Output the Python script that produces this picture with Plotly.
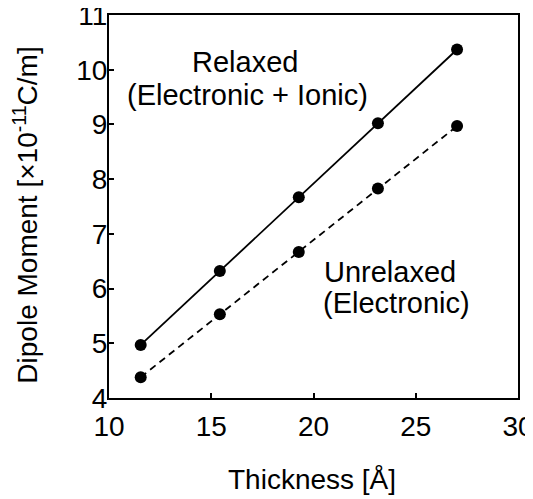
import plotly.graph_objects as go

thickness = [11.55, 15.42, 19.28, 23.15, 27.02]
relaxed = [4.97, 6.32, 7.67, 9.02, 10.37]
unrelaxed = [4.38, 5.53, 6.67, 7.83, 8.97]

FONT = "Liberation Sans, Arial, Helvetica, sans-serif"
FS = 28
FS_ANN = 29

fig = go.Figure()
fig.add_trace(go.Scatter(
    x=thickness, y=relaxed, mode="lines+markers",
    line=dict(color="black", width=1.8),
    marker=dict(color="black", size=12),
    showlegend=False,
))
fig.add_trace(go.Scatter(
    x=thickness, y=unrelaxed, mode="lines+markers",
    line=dict(color="black", width=1.8, dash="7px,5px"),
    marker=dict(color="black", size=12),
    showlegend=False,
))

annots = [
    dict(text="Relaxed", x=16.65, y=10.14),
    dict(text="(Electronic + Ionic)", x=16.77, y=9.54),
    dict(text="Unrelaxed", x=23.74, y=6.30),
    dict(text="(Electronic)", x=24.08, y=5.73),
]
for a in annots:
    fig.add_annotation(text=a["text"], x=a["x"], y=a["y"], xref="x", yref="y",
                       showarrow=False, font=dict(family=FONT, size=FS_ANN, color="black"),
                       xanchor="center", yanchor="middle")

fig.add_annotation(text="Dipole Moment [×10<sup>-11</sup>C/m]", x=-0.205, y=0.4765,
                   xref="paper", yref="paper", textangle=-90, showarrow=False,
                   font=dict(family=FONT, size=FS, color="black"),
                   xanchor="center", yanchor="middle")
fig.add_annotation(text="Thickness [Å]", x=0.497, y=-0.214,
                   xref="paper", yref="paper", showarrow=False,
                   font=dict(family=FONT, size=FS, color="black"),
                   xanchor="center", yanchor="middle")

fig.update_xaxes(range=[10, 30], dtick=5, tick0=10, ticks="inside", ticklen=5,
                 tickwidth=1.5, tickcolor="black", showline=True, linecolor="black",
                 linewidth=2, mirror=True, showgrid=False, zeroline=False,
                 automargin=False, ticklabelstandoff=2, ticklabeloverflow="allow",
                 tickfont=dict(family=FONT, size=FS, color="black"))
fig.update_yaxes(range=[4, 11], dtick=1, tick0=4, ticks="inside", ticklen=5,
                 tickwidth=1.5, tickcolor="black", showline=True, linecolor="black",
                 linewidth=2, mirror=True, showgrid=False, zeroline=False,
                 automargin=False, ticklabelstandoff=-6, ticklabeloverflow="allow",
                 tickfont=dict(family=FONT, size=FS, color="black"))

# page body has an 8px margin, so the figure is sized/offset to compensate
fig.update_layout(
    width=525, height=491,
    margin=dict(l=101, r=15, t=7, b=101),
    paper_bgcolor="white", plot_bgcolor="white",
    font=dict(family=FONT, size=FS, color="black"),
)

fig.write_html("out.html")
